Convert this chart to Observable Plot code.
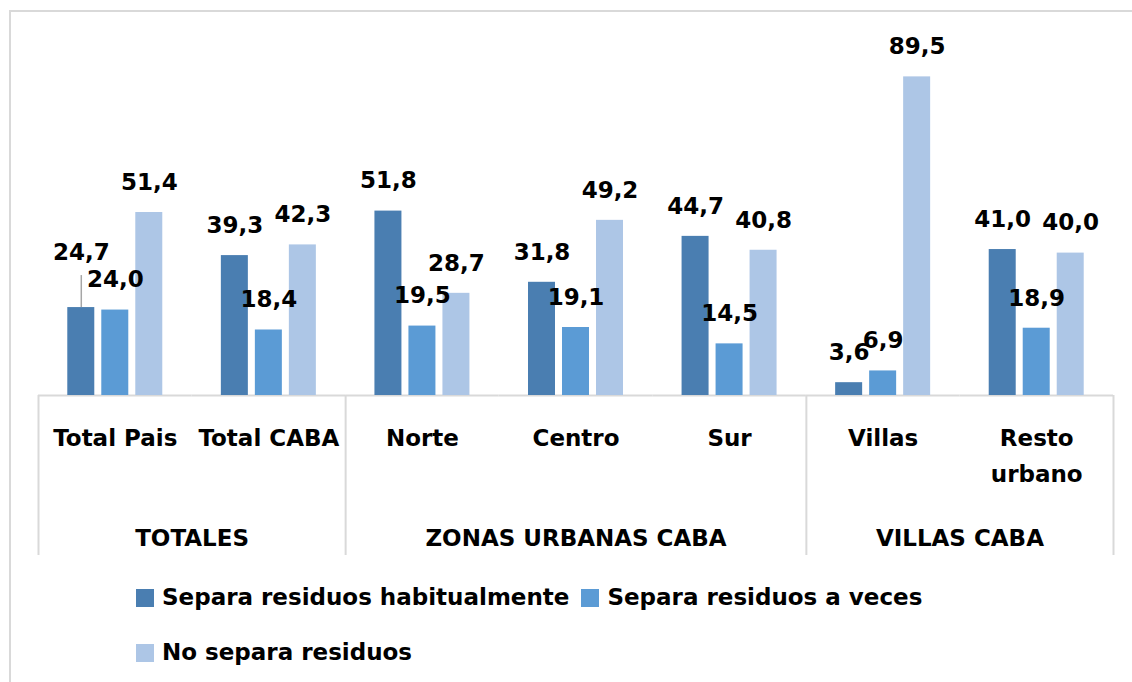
<!DOCTYPE html>
<html>
<head>
<meta charset="utf-8">
<script src="https://cdn.jsdelivr.net/npm/d3@7"></script>
<script src="https://cdn.jsdelivr.net/npm/@observablehq/plot@0.6"></script>
<style>
  html, body { margin: 0; padding: 0; background: #fff; }
  body { width: 1132px; height: 682px; overflow: hidden; position: relative; font-family: "DejaVu Sans", sans-serif; }
  #frame { position: absolute; left: 9px; top: 10px; width: 1200px; height: 720px; border-left: 2px solid #d9d9d9; border-top: 2px solid #d9d9d9; }
  #chart { position: absolute; left: 0; top: 0; }
  .legend-row { position: absolute; left: 136px; display: flex; align-items: center; font-weight: bold; font-size: 23px; line-height: 27px; color: #000; white-space: nowrap; }
  .legend-item { display: flex; align-items: center; margin-right: 12px; }
  .swatch { width: 18px; height: 18px; margin-right: 8px; flex: none; }
</style>
</head>
<body>
<div id="frame"></div>
<div id="chart"></div>
<div id="legend"></div>
<script>
// ---- Data ----
const categories = ["Total Pais", "Total CABA", "Norte", "Centro", "Sur", "Villas", "Resto urbano"];
const categoryLabels = ["Total Pais", "Total CABA", "Norte", "Centro", "Sur", "Villas", "Resto\nurbano"];
const groupNames = ["TOTALES", "ZONAS URBANAS CABA", "VILLAS CABA"];
const groupMembers = [["Total Pais", "Total CABA"], ["Norte", "Centro", "Sur"], ["Villas", "Resto urbano"]];
const seriesNames = ["Separa residuos habitualmente", "Separa residuos a veces", "No separa residuos"];
const habitualmente = [24.7, 39.3, 51.8, 31.8, 44.7, 3.6, 41.0];
const aVeces = [24.0, 18.4, 19.5, 19.1, 14.5, 6.9, 18.9];
const noSepara = [51.4, 42.3, 28.7, 49.2, 40.8, 89.5, 40.0];
const seriesColors = ["#4a7eb1", "#5b9bd5", "#adc6e6"];
const raisedLabels = [["Total Pais", "Separa residuos habitualmente"]];
const legendRows = [[0, 1], [2]];

// ---- Layout ----
const W = 1132, H = 560;
const mL = 38, mR = 19, mT = 39, mB = 165;
const facetW = (W - mL - mR) / categories.length;
const barW = 27, barGap = 7, barStep = barW + barGap;
const padInner = barGap / barStep;
const padOuter = (facetW - (seriesNames.length * barStep - barGap)) / 2 / barStep;
const edgeOffset = padOuter * barStep + barW / 2;
const frameH = H - mT - mB;
const axisDepth = 160;
const font = '"DejaVu Sans", sans-serif';
const fs = 23;

const seriesValues = [habitualmente, aVeces, noSepara];
const rows = [];
seriesNames.forEach((s, j) => categories.forEach((c, i) => rows.push({
  category: c, series: s, value: seriesValues[j][i],
  raised: raisedLabels.some(([rc, rs]) => rc === c && rs === s)
})));
const fmt = v => d3.format(".1f")(v).replace(".", ",");

const groups = groupNames.map((name, g) => {
  const m = groupMembers[g], n = m.length;
  return {name, even: n % 2 === 0, anchor: n % 2 === 0 ? m[n / 2 - 1] : m[(n - 1) / 2]};
});
const leftEdges = groupMembers.map(m => m[0]);
const rightEdges = [categories[categories.length - 1]];

const textStyle = {fontSize: fs, fontWeight: "bold", fill: "#000", fontFamily: font};

const plot = Plot.plot({
  width: W, height: H,
  marginLeft: mL, marginRight: mR, marginTop: mT, marginBottom: mB,
  style: {fontFamily: font, background: "transparent", overflow: "visible"},
  fx: {domain: categories, padding: 0, axis: null, round: false},
  x: {domain: seriesNames, paddingInner: padInner, paddingOuter: padOuter, axis: null, round: false},
  y: {domain: [0, 100], axis: null},
  color: {domain: seriesNames, range: seriesColors},
  marks: [
    Plot.ruleY([0], {stroke: "#d9d9d9", strokeWidth: 2}),
    Plot.ruleX(leftEdges, {fx: d => d, x: () => seriesNames[0], dx: -edgeOffset, insetTop: frameH, insetBottom: -axisDepth, stroke: "#d9d9d9", strokeWidth: 2}),
    Plot.ruleX(rightEdges, {fx: d => d, x: () => seriesNames[seriesNames.length - 1], dx: edgeOffset, insetTop: frameH, insetBottom: -axisDepth, stroke: "#d9d9d9", strokeWidth: 2}),
    Plot.barY(rows, {fx: "category", x: "series", y1: 0, y2: "value", fill: "series"}),
    Plot.ruleX(rows.filter(d => d.raised), {fx: "category", x: "series", y1: "value", y2: "value", insetTop: -32, stroke: "#a6a6a6", strokeWidth: 1.5}),
    Plot.text(rows.filter(d => !d.raised), {fx: "category", x: "series", y: "value", text: d => fmt(d.value), dy: -30, ...textStyle}),
    Plot.text(rows.filter(d => d.raised), {fx: "category", x: "series", y: "value", text: d => fmt(d.value), dy: -55, ...textStyle}),
    Plot.text(categories, {fx: d => d, text: (d, i) => categoryLabels[i], frameAnchor: "bottom", lineAnchor: "top", lineHeight: 1.6, dy: 24, ...textStyle}),
    Plot.text(groups.filter(g => g.even), {fx: "anchor", text: "name", frameAnchor: "bottom-right", textAnchor: "middle", lineAnchor: "top", dy: 134, ...textStyle}),
    Plot.text(groups.filter(g => !g.even), {fx: "anchor", text: "name", frameAnchor: "bottom", lineAnchor: "top", dy: 134, ...textStyle})
  ]
});
document.getElementById("chart").appendChild(plot);

// ---- Legend ----
const legend = document.getElementById("legend");
const rowTops = [584, 639];
legendRows.forEach((items, r) => {
  const row = document.createElement("div");
  row.className = "legend-row";
  row.style.top = rowTops[r] + "px";
  items.forEach(j => {
    const item = document.createElement("div");
    item.className = "legend-item";
    const sw = document.createElement("span");
    sw.className = "swatch";
    sw.style.background = seriesColors[j];
    const tx = document.createElement("span");
    tx.textContent = seriesNames[j];
    item.appendChild(sw); item.appendChild(tx);
    row.appendChild(item);
  });
  legend.appendChild(row);
});
</script>
</body>
</html>
